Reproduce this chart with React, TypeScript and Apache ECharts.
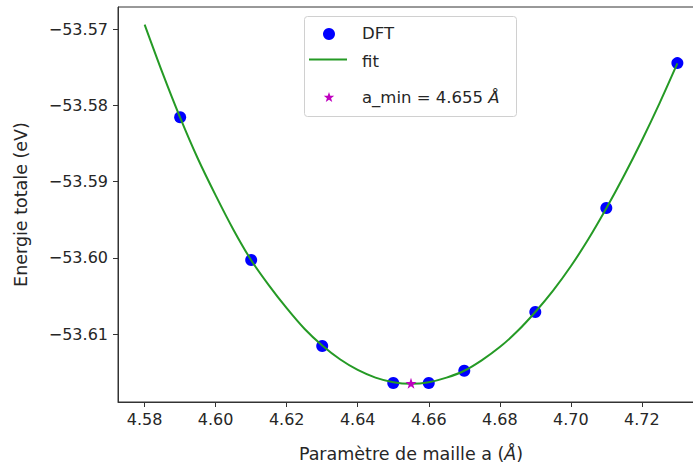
import React, { useEffect, useRef } from "react";
import * as echarts from "echarts";

// DFT points: lattice parameter (Å) and total energy (eV)
const dftA = [4.59, 4.61, 4.63, 4.65, 4.66, 4.67, 4.69, 4.71, 4.73];
const dftE = [-53.58155, -53.60028, -53.61156, -53.6164, -53.6164, -53.6148, -53.6071, -53.59346, -53.57446];

// fitted curve
const fitA = [
  4.58, 4.585, 4.59, 4.595, 4.6, 4.605, 4.61, 4.615, 4.62, 4.625, 4.63, 4.635, 4.64, 4.645, 4.65,
  4.655, 4.66, 4.665, 4.67, 4.675, 4.68, 4.685, 4.69, 4.695, 4.7, 4.705, 4.71, 4.715, 4.72, 4.725, 4.73,
];
const fitE = [
  -53.5694, -53.5757, -53.5816, -53.587, -53.5918, -53.5963, -53.6003, -53.6036, -53.6066, -53.6093,
  -53.6115, -53.6133, -53.6147, -53.6157, -53.6163, -53.6165, -53.6163, -53.6157, -53.6148, -53.6134,
  -53.6117, -53.6096, -53.6071, -53.6043, -53.6011, -53.5975, -53.5935, -53.5892, -53.5846, -53.5797,
  -53.5745,
];

// minimum
const minA = [4.655];
const minE = [-53.61645];

const xTicks = [4.58, 4.6, 4.62, 4.64, 4.66, 4.68, 4.7, 4.72];
const yTicks = [-53.61, -53.6, -53.59, -53.58, -53.57];

const FONT = "DejaVu Sans";
const TXT = "#262626";
const BLUE = "#0000ff";
const GREEN = "#259a25";
const MAG = "#bf00bf";
const STAR =
  "path://M0,-10L2.35,-3.24L9.51,-3.09L3.8,1.24L5.88,8.09L0,4L-5.88,8.09L-3.8,1.24L-9.51,-3.09L-2.35,-3.24Z";

function starPoints(cx: number, cy: number, r: number): number[][] {
  const pts: number[][] = [];
  for (let i = 0; i < 10; i++) {
    const ang = -Math.PI / 2 + (i * Math.PI) / 5;
    const rr = i % 2 === 0 ? r : r * 0.4;
    pts.push([cx + rr * Math.cos(ang), cy + rr * Math.sin(ang)]);
  }
  return pts;
}

export default function App() {
  const ref = useRef<HTMLDivElement>(null);
  useEffect(() => {
    document.body.style.margin = "0";
    const chart = echarts.init(ref.current!, null, { renderer: "svg" });
    const fmtMinus = (v: number, d: number) => v.toFixed(d).replace("-", "\u2212");
    chart.setOption({
      animation: false,
      backgroundColor: "#ffffff",
      grid: {
        left: 118,
        top: 7,
        right: -11,
        bottom: 69,
        show: true,
        borderColor: "#333",
        borderWidth: 1,
        backgroundColor: "transparent",
        outerBoundsMode: "none",
        containLabel: false,
      },
      xAxis: {
        type: "value",
        min: 4.5725,
        max: 4.7375,
        name: "{n|Paramètre de maille a (}{i|Å}{n|)}",
        nameLocation: "middle",
        nameGap: 43,
        nameTextStyle: {
          rich: {
            n: { fontFamily: FONT, fontSize: 17.5, color: TXT },
            i: { fontFamily: FONT, fontSize: 17.5, color: TXT, fontStyle: "italic" },
          },
        },
        axisLine: { show: true, lineStyle: { color: "#333", width: 1 } },
        axisTick: { show: true, length: 5, customValues: xTicks, lineStyle: { color: "#333" } },
        axisLabel: {
          customValues: xTicks,
          formatter: (v: number) => fmtMinus(v, 2),
          fontFamily: FONT,
          fontSize: 16,
          color: TXT,
          margin: 9,
        },
        splitLine: { show: false },
      },
      yAxis: {
        type: "value",
        min: -53.6189,
        max: -53.5671,
        name: "Energie totale (eV)",
        nameLocation: "middle",
        nameGap: 88,
        nameRotate: 90,
        nameTextStyle: { fontFamily: FONT, fontSize: 17.5, color: TXT },
        axisLine: { show: true, lineStyle: { color: "#333", width: 1 } },
        axisTick: { show: true, length: 5, customValues: yTicks, lineStyle: { color: "#333" } },
        axisLabel: {
          customValues: yTicks,
          formatter: (v: number) => fmtMinus(v, 2),
          fontFamily: FONT,
          fontSize: 16,
          color: TXT,
          margin: 10,
        },
        splitLine: { show: false },
      },
      series: [
        {
          name: "DFT",
          type: "scatter",
          data: dftA.map((a, i) => [a, dftE[i]]),
          symbol: "circle",
          symbolSize: 12,
          itemStyle: { color: BLUE, opacity: 1 },
          z: 2,
        },
        {
          name: "fit",
          type: "line",
          data: fitA.map((a, i) => [a, fitE[i]]),
          smooth: 0.3,
          showSymbol: false,
          lineStyle: { color: GREEN, width: 2 },
          z: 3,
        },
        {
          name: "a_min = 4.655 Å",
          type: "scatter",
          data: minA.map((a, i) => [a, minE[i]]),
          symbol: STAR,
          symbolSize: 11,
          itemStyle: { color: MAG, opacity: 1 },
          z: 4,
        },
      ],
      graphic: [
        {
          type: "rect",
          shape: { x: 304.5, y: 16.5, width: 212, height: 100, r: 3 },
          style: { fill: "rgba(255,255,255,0.8)", stroke: "#d0d0d0", lineWidth: 1 },
          z: 100,
        },
        {
          type: "circle",
          shape: { cx: 329, cy: 34, r: 6 },
          style: { fill: BLUE },
          z: 101,
        },
        {
          type: "text",
          x: 362,
          y: 33,
          style: { text: "DFT", font: `16.5px "${FONT}"`, fill: TXT, textVerticalAlign: "middle" },
          z: 101,
        },
        {
          type: "line",
          shape: { x1: 309, y1: 59.5, x2: 347, y2: 59.5 },
          style: { stroke: GREEN, lineWidth: 2 },
          z: 101,
        },
        {
          type: "text",
          x: 362,
          y: 61,
          style: { text: "fit", font: `16.5px "${FONT}"`, fill: TXT, textVerticalAlign: "middle" },
          z: 101,
        },
        {
          type: "polygon",
          shape: { points: starPoints(329, 97.5, 5.5) },
          style: { fill: MAG },
          z: 101,
        },
        {
          type: "text",
          x: 362,
          y: 97,
          style: {
            text: "{n|a_min = 4.655 }{i|Å}",
            rich: {
              n: { fontFamily: FONT, fontSize: 16.5, fill: TXT },
              i: { fontFamily: FONT, fontSize: 16.5, fill: TXT, fontStyle: "italic" },
            },
            textVerticalAlign: "middle",
          },
          z: 101,
        },
      ],
    });
    return () => chart.dispose();
  }, []);
  return (
    <div
      ref={ref}
      style={{ position: "absolute", left: 0, top: 0, width: 693, height: 471, overflow: "hidden" }}
    />
  );
}
